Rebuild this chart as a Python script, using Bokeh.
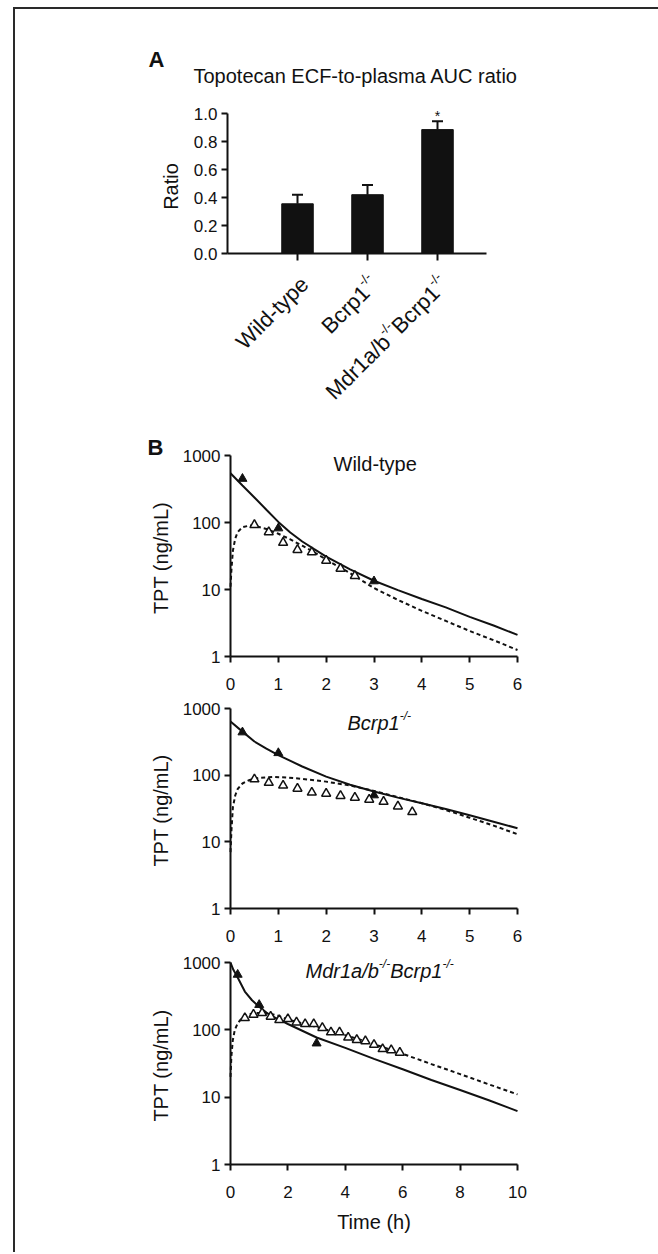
import math
from bokeh.plotting import figure
from bokeh.layouts import column
from bokeh.models import (ColumnDataSource, FixedTicker, Label, LabelSet, Whisker,
                          TeeHead, PrintfTickFormatter, Range1d, CustomJSTickFormatter)
from bokeh.core.properties import value
from bokeh.embed import file_html
from bokeh.resources import INLINE

FONT = "Liberation Sans"
INK = "#111111"

# ---------------- Panel A data ----------------
groups = ["Wild-type", "Bcrp1-/-", "Mdr1a/b-/-Bcrp1-/-"]
group_label_parts = [
    [("Wild-type", 0)],
    [("Bcrp1", 0), ("-/-", 1)],
    [("Mdr1a/b", 0), ("-/-", 1), ("Bcrp1", 0), ("-/-", 1)],
]
ratio_mean = [0.355, 0.42, 0.885]
ratio_sem = [0.065, 0.07, 0.06]
ratio_sig = ["", "", "*"]
ratio_ticks = [0.0, 0.2, 0.4, 0.6, 0.8, 1.0]

# ---------------- Panel B data ----------------
log_ticks = [1, 10, 100, 1000]

# Wild-type
wt_fit_t = [0, 0.25, 0.5, 0.75, 1.0, 1.25, 1.5, 1.75, 2.0, 2.5, 3.0, 3.5, 4.0, 4.5, 5.0, 5.5, 6.0]
wt_plasma_fit = [543, 356, 236, 155, 102, 71, 52, 40, 31, 20, 13.5, 9.8, 7.2, 5.4, 3.9, 2.9, 2.1]
wt_ecf_fit_t = [0, 0.02, 0.05, 0.1, 0.15, 0.25, 0.4, 0.5, 0.75, 1.0, 1.25, 1.5, 1.75, 2.0, 2.5,
                3.0, 3.5, 4.0, 4.5, 5.0, 5.5, 6.0]
wt_ecf_fit = [11, 20, 38, 58, 72, 85, 90, 89, 80, 68, 56, 45, 36, 28, 17.5, 10.5, 7.0, 4.8, 3.4,
              2.4, 1.75, 1.25]
wt_plasma_t = [0.25, 1.0, 3.0]
wt_plasma_obs = [450, 82, 13.3]
wt_ecf_t = [0.5, 0.8, 1.1, 1.4, 1.7, 2.0, 2.3, 2.6]
wt_ecf_obs = [92, 72, 50, 39, 36, 27, 20.5, 16]

# Bcrp1-/-
bc_fit_t = [0, 0.25, 0.5, 0.75, 1.0, 1.5, 2.0, 2.5, 3.0, 3.5, 4.0, 4.5, 5.0, 5.5, 6.0]
bc_plasma_fit = [640, 450, 320, 250, 200, 135, 95, 72, 57, 46, 38, 31, 25, 20, 16]
bc_ecf_fit_t = [0, 0.02, 0.05, 0.1, 0.15, 0.25, 0.4, 0.6, 0.9, 1.2, 1.5, 2.0, 2.5, 3.0, 3.5,
                4.0, 4.5, 5.0, 5.5, 6.0]
bc_ecf_fit = [7, 15, 33, 50, 62, 75, 85, 91, 94, 92, 88, 80, 70, 58, 47, 38, 30, 23, 17.5, 13]
bc_plasma_t = [0.25, 1.0, 3.0]
bc_plasma_obs = [440, 215, 50]
bc_ecf_t = [0.5, 0.8, 1.1, 1.4, 1.7, 2.0, 2.3, 2.6, 2.9, 3.2, 3.5, 3.8]
bc_ecf_obs = [87, 77, 70, 63, 55, 53, 49, 46, 43, 40, 34, 28]

# Mdr1a/b-/-Bcrp1-/-
md_fit_t = [0, 0.1, 0.25, 0.5, 0.75, 1.0, 1.25, 1.5, 1.75, 2.0, 2.5, 3.0, 4.0, 5.0, 6.0, 7.0, 8.0,
            9.0, 10.0]
md_plasma_fit = [1000, 780, 600, 370, 275, 220, 180, 155, 138, 122, 97, 77, 54, 37, 26, 18, 12.8,
                 9.0, 6.2]
md_ecf_fit_t = [0, 0.03, 0.08, 0.15, 0.25, 0.4, 0.6, 0.8, 1.0, 1.3, 1.6, 2.0, 2.5, 3.0, 3.5, 4.0,
                4.5, 5.0, 5.5, 6.0, 7.0, 8.0, 9.0, 10.0]
md_ecf_fit = [20, 40, 70, 100, 125, 150, 168, 176, 178, 175, 165, 142, 125, 110, 96, 83, 72, 61,
              52, 44, 31, 22, 15.5, 11]
md_plasma_t = [0.25, 1.0, 3.0]
md_plasma_obs = [660, 235, 63]
md_ecf_t = [0.5, 0.8, 1.1, 1.4, 1.7, 2.0, 2.3, 2.6, 2.9, 3.2, 3.5, 3.8, 4.1, 4.4, 4.7, 5.0, 5.3, 5.6, 5.9]
md_ecf_obs = [150, 168, 178, 157, 140, 145, 129, 122, 122, 107, 92, 92, 77, 71, 68, 60, 52, 50, 46]

# ---------------- helpers ----------------
CW = {'A': .667, 'B': .667, 'C': .722, 'E': .667, 'F': .611, 'M': .833, 'T': .611, 'U': .722,
      'W': .944, 'a': .556, 'b': .556, 'c': .5, 'd': .556, 'e': .556, 'g': .556, 'h': .556,
      'i': .222, 'l': .222, 'm': .833, 'n': .556, 'o': .556, 'p': .556, 'r': .333, 's': .5,
      't': .278, 'y': .5, '-': .333, '/': .278, ' ': .278, '(': .333, ')': .333, '.': .278}
for d in "0123456789":
    CW[d] = .556


def tw(s, size):
    return sum(CW.get(c, .556) for c in s) * size


MAIN_FS = 20
SUP_FS = 12
SUP_SHIFT = 7
CAT_FS = 22
CAT_SUP_FS = 13
CAT_SUP_SHIFT = 8
TICK_FS = "17px"

# page layout (pixels) -- every figure shares the same frame left/right
X0 = 15            # left edge of figures on the page
FIG_W = 643
FRAME_L = 95
FRAME_R = 652


def lin_range(p0, v0, p1, v1, f0, f1):
    k = (v1 - v0) / (p1 - p0)
    return v0 + (f0 - p0) * k, v0 + (f1 - p0) * k


def style_axes(p):
    for ax in p.axis:
        ax.axis_line_width = 2
        ax.axis_line_color = INK
        ax.major_tick_line_width = 2
        ax.major_tick_line_color = INK
        ax.major_tick_in = 0
        ax.major_tick_out = 6
        ax.minor_tick_line_color = None
        ax.major_label_text_font = FONT
        ax.major_label_text_font_size = TICK_FS
        ax.major_label_text_color = INK
    p.xgrid.grid_line_color = None
    p.ygrid.grid_line_color = None
    p.outline_line_color = None
    p.background_fill_color = "white"
    p.border_fill_color = "white"


def txt(x, y, text, xo, yo, size, style="normal", align="left", baseline="alphabetic", angle=0):
    return Label(x=x, y=y, x_offset=xo, y_offset=yo, text=text, text_font=FONT,
                 text_font_size=f"{size}px", text_font_style=style, text_align=align,
                 text_baseline=baseline, text_color=INK, angle=angle)


# ---------------- Panel A ----------------
A_TOP, A_H = 9, 401
a_frame_top = A_TOP + 30
a_frame_bot = A_TOP + A_H
ax0, ax1 = 227, 297       # page x of data 0 and 1
ay0, ay1 = 253, 113       # page y of data 0 and 1
xs_a = lin_range(ax0, 0, ax1, 1, FRAME_L, FRAME_R)
ys_a = lin_range(ay0, 0, ay1, 1, a_frame_bot, a_frame_top)

xa = [i + 1 for i in range(len(groups))]
pa = figure(width=FIG_W, height=A_H, x_range=Range1d(*xs_a), y_range=Range1d(*ys_a),
            x_axis_location="above", output_backend="svg", toolbar_location=None,
            min_border_left=FRAME_L - X0, min_border_right=X0 + FIG_W - FRAME_R,
            min_border_top=30, min_border_bottom=0)
style_axes(pa)
src_a = ColumnDataSource(dict(x=xa, top=ratio_mean,
                              upper=[m + s for m, s in zip(ratio_mean, ratio_sem)],
                              sig=ratio_sig))
pa.vbar(x="x", top="top", width=0.45, bottom=0, source=src_a, fill_color=INK, line_color=INK)
pa.add_layout(Whisker(base="x", upper="upper", lower="top", source=src_a, line_width=2,
                      line_color=INK, lower_head=None,
                      upper_head=TeeHead(size=11, line_width=2, line_color=INK)))
pa.add_layout(LabelSet(x="x", y="upper", text="sig", source=src_a, text_align="center",
                       text_baseline="alphabetic", y_offset=0, text_font=value(FONT),
                       text_font_size="14px", text_color=INK))
pa.yaxis.fixed_location = 0
pa.yaxis.ticker = FixedTicker(ticks=ratio_ticks)
pa.yaxis.formatter = PrintfTickFormatter(format="%.1f")
pa.yaxis.bounds = (0, 1)
pa.yaxis.major_label_standoff = 4
pa.xaxis.fixed_location = 0
pa.xaxis.ticker = FixedTicker(ticks=xa)
pa.xaxis.bounds = (0, 3.7)
pa.xaxis.formatter = CustomJSTickFormatter(code="return ''")
pa.xaxis.major_label_text_color = None
pa.xaxis.major_label_standoff = 0
pa.xaxis.major_tick_in = 7
pa.xaxis.major_tick_out = 0

pa.add_layout(txt(0, 0.5, "Ratio", -57, -3, MAIN_FS, align="center", baseline="middle",
                  angle=math.pi / 2))

# rotated category labels with superscripts (right end of each label sits under its tick)
ang = math.pi / 4
ca, sa = math.cos(ang), math.sin(ang)
rows = {"x": [], "y": [], "t": [], "xo": [], "yo": []}
srows = {"x": [], "y": [], "t": [], "xo": [], "yo": []}
for gx, parts in zip(xa, group_label_parts):
    cum = 0.0
    for text, sup in reversed(parts):
        fs = CAT_SUP_FS if sup else CAT_FS
        shift = CAT_SUP_SHIFT if sup else 0
        ox = 7 - cum * ca - sa * shift
        oy = -27 - cum * sa + ca * shift
        r = srows if sup else rows
        r["x"].append(gx); r["y"].append(0); r["t"].append(text)
        r["xo"].append(ox); r["yo"].append(oy)
        cum += tw(text, fs)
for r, fs in ((rows, CAT_FS), (srows, CAT_SUP_FS)):
    pa.add_layout(LabelSet(x="x", y="y", text="t", x_offset="xo", y_offset="yo",
                           source=ColumnDataSource(r), angle=ang, text_align="right",
                           text_baseline="middle", text_font=value(FONT),
                           text_font_size=f"{fs}px", text_color=INK))

pa.add_layout(txt(0, 1.0, "A", 156 - ax0, ay1 - 59, 22, style="bold", align="center"))
pa.add_layout(txt(0, 1.0, "Topotecan ECF-to-plasma AUC ratio", 193 - ax0, ay1 - 75, MAIN_FS))


# ---------------- Panel B ----------------
BX0, BX1 = 230, 517


def pk_panel(top, height, y1000, y1, xmax, xticks, fit_t, plasma_fit, ecf_t, ecf_fit,
             p_t, p_obs, e_t, e_obs, title_parts, italic, title_left, title_base,
             xlabel=None):
    dec = (y1 - y1000) / 3.0
    bot = top + height
    y_range = Range1d(10 ** (-(bot - y1) / dec), 10 ** ((y1 - top) / dec))
    x_range = Range1d(*lin_range(BX0, 0, BX1, xmax, FRAME_L, FRAME_R))
    p = figure(width=FIG_W, height=height, x_range=x_range, y_range=y_range,
               y_axis_type="log", x_axis_location="above", output_backend="svg",
               toolbar_location=None, min_border_left=FRAME_L - X0,
               min_border_right=X0 + FIG_W - FRAME_R, min_border_top=0, min_border_bottom=0)
    style_axes(p)
    p.yaxis.fixed_location = 0
    p.yaxis.bounds = (1, 1000)
    p.yaxis.ticker = FixedTicker(ticks=log_ticks)
    p.yaxis.formatter = PrintfTickFormatter(format="%d")
    p.yaxis.major_label_standoff = 4
    p.xaxis.fixed_location = 1
    p.xaxis.bounds = (0, xmax)
    p.xaxis.ticker = FixedTicker(ticks=xticks)
    p.xaxis.formatter = PrintfTickFormatter(format="%d")
    p.xaxis.major_tick_in = 6
    p.xaxis.major_tick_out = 0
    p.xaxis.major_label_standoff = -33
    p.add_layout(txt(0, math.sqrt(1000), "TPT (ng/mL)", 160 - BX0, -2, MAIN_FS,
                     align="center", baseline="middle", angle=math.pi / 2))
    if xlabel:
        p.add_layout(txt(xmax / 2, 1, xlabel, 0, y1 - 1221, MAIN_FS, align="center"))
    p.line(fit_t, plasma_fit, line_color=INK, line_width=2)
    p.line(ecf_t, ecf_fit, line_color=INK, line_width=2, line_dash="4 3")
    p.scatter(p_t, p_obs, marker="triangle", size=9, fill_color=INK, line_color=INK)
    p.scatter(e_t, e_obs, marker="triangle", size=9, fill_color="white", line_color=INK,
              line_width=1.5)
    cum = title_left - BX0
    for text, sup in title_parts:
        fs = SUP_FS if sup else MAIN_FS
        p.add_layout(txt(0, 1000, text, cum, (y1000 - title_base) + (SUP_SHIFT if sup else 0),
                         fs, style="italic" if italic else "normal"))
        cum += tw(text, fs)
    return p


pb1 = pk_panel(410, 286, 455, 656, 6, [0, 1, 2, 3, 4, 5, 6], wt_fit_t, wt_plasma_fit,
               wt_ecf_fit_t, wt_ecf_fit, wt_plasma_t, wt_plasma_obs, wt_ecf_t, wt_ecf_obs,
               [("Wild-type", 0)], False, 333, 463)
pb1.add_layout(txt(0, 1000, "B", 155 - BX0, 455 - 447, 22, style="bold", align="center"))
pb2 = pk_panel(696, 252, 708, 908, 6, [0, 1, 2, 3, 4, 5, 6], bc_fit_t, bc_plasma_fit,
               bc_ecf_fit_t, bc_ecf_fit, bc_plasma_t, bc_plasma_obs, bc_ecf_t, bc_ecf_obs,
               [("Bcrp1", 0), ("-/-", 1)], True, 347, 722)
pb3 = pk_panel(948, 304, 962, 1164, 10, [0, 2, 4, 6, 8, 10], md_fit_t, md_plasma_fit,
               md_ecf_fit_t, md_ecf_fit, md_plasma_t, md_plasma_obs, md_ecf_t, md_ecf_obs,
               [("Mdr1a/b", 0), ("-/-", 1), ("Bcrp1", 0), ("-/-", 1)], True, 305, 970,
               xlabel="Time (h)")

layout = column(pa, pb1, pb2, pb3, spacing=0)
layout.margin = (7, 0, 0, 13)
layout.styles = {"border-left": "2px solid #2a2a2a", "border-top": "2px solid #2a2a2a"}

open("out.html", "w").write(file_html(layout, INLINE))
